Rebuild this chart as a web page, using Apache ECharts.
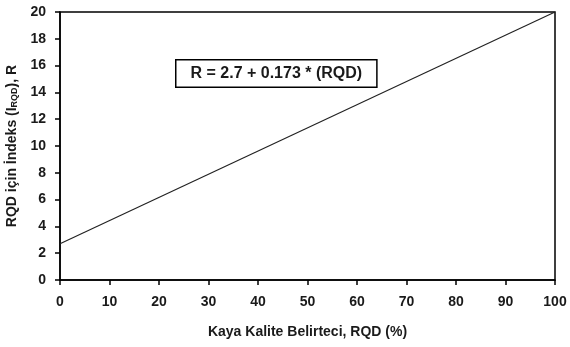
<!DOCTYPE html>
<html>
<head>
<meta charset="utf-8">
<script src="https://cdn.jsdelivr.net/npm/echarts@6/dist/echarts.min.js"></script>
<style>
  html, body { margin: 0; padding: 0; background: #fff; }
  #chart { width: 570px; height: 347px; }
</style>
</head>
<body>
<div id="chart"></div>
<script>
// R = 2.7 + 0.173 * RQD
const rqdValues = [0, 100]
const rValues = [2.7, 20]
const equationText = 'R = 2.7 + 0.173 * (RQD)'

const font = '"Liberation Sans", Arial, sans-serif'
const ink = '#1a1a1a'

const chart = echarts.init(document.getElementById('chart'))

chart.setOption({
  animation: false,
  grid: {
    left: 60,
    right: 15,
    top: 12,
    bottom: 67,
    outerBoundsMode: 'none',
    containLabel: false,
    show: true,
    borderColor: '#000',
    borderWidth: 1.5
  },
  xAxis: {
    type: 'value',
    min: 0,
    max: 100,
    interval: 10,
    name: 'Kaya Kalite Belirteci, RQD (%)',
    nameLocation: 'middle',
    nameGap: 45,
    nameTextStyle: { fontFamily: font, fontWeight: 'bold', fontSize: 14, color: ink },
    axisLine: { lineStyle: { color: '#000', width: 1.5 } },
    axisTick: { show: true, length: 5, lineStyle: { color: '#000', width: 1.5 } },
    axisLabel: { fontFamily: font, fontWeight: 'bold', fontSize: 14, color: ink, margin: 15 },
    splitLine: { show: false }
  },
  yAxis: {
    type: 'value',
    min: 0,
    max: 20,
    interval: 2,
    name: '{a|RQD için İndeks (I}{s|RQD}{a|), R}',
    nameLocation: 'middle',
    nameGap: 36,
    nameTextStyle: {
      rich: {
        a: { fontFamily: font, fontWeight: 'bold', fontSize: 14, color: ink },
        s: { fontFamily: font, fontWeight: 'bold', fontSize: 9, color: ink, padding: [4, 0, 0, 0] }
      }
    },
    axisLine: { lineStyle: { color: '#000', width: 1.5 } },
    axisTick: { show: true, length: 5, lineStyle: { color: '#000', width: 1.5 } },
    axisLabel: { fontFamily: font, fontWeight: 'bold', fontSize: 14, color: ink, margin: 14 },
    splitLine: { show: false }
  },
  graphic: [{
    type: 'text',
    left: 175,
    top: 59,
    style: {
      text: equationText,
      fontFamily: font,
      fontWeight: 'bold',
      fontSize: 16,
      fill: ink,
      backgroundColor: '#fff',
      borderColor: '#000',
      borderWidth: 1.5,
      padding: [5, 14, 5, 14]
    }
  }],
  series: [{
    type: 'line',
    data: rqdValues.map((x, i) => [x, rValues[i]]),
    symbol: 'none',
    lineStyle: { color: '#222', width: 1.2 }
  }]
})
</script>
</body>
</html>
